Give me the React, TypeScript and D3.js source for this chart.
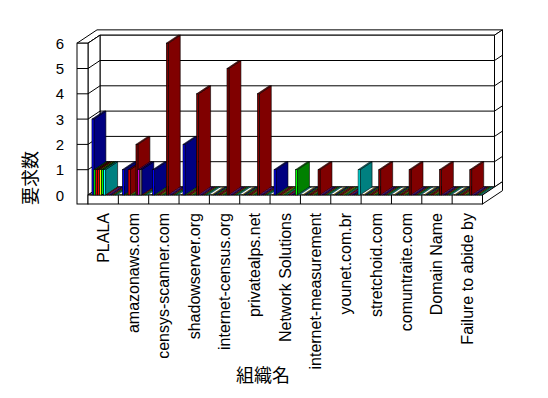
import React from "react";
import * as d3 from "d3";

// ---- data ----
const categories = [
  "PLALA",
  "amazonaws.com",
  "censys-scanner.com",
  "shadowserver.org",
  "internet-census.org",
  "privatealps.net",
  "Network Solutions",
  "internet-measurement",
  "younet.com.br",
  "stretchoid.com",
  "comuntraite.com",
  "Domain Name",
  "Failure to abide by",
];
const yTicks = [0, 1, 2, 3, 4, 5, 6];
const yTitle = "要求数";
const xTitle = "組織名";

const s00 = [0, 0, 0, 0, 0, 0, 0, 0, 0, 0, 0, 0, 0];
const s01 = [3, 1, 1, 2, 0, 0, 1, 0, 0, 0, 0, 0, 0];
const s02 = [1, 0, 0, 0, 0, 0, 0, 0, 0, 0, 0, 0, 0];
const s03 = [1, 0, 0, 0, 0, 0, 0, 0, 0, 0, 0, 0, 0];
const s04 = [1, 1, 0, 0, 0, 0, 0, 0, 0, 0, 0, 0, 0];
const s05 = [1, 0, 0, 0, 0, 0, 0, 0, 0, 0, 0, 0, 0];
const s06 = [1, 0, 0, 0, 0, 0, 0, 0, 0, 0, 0, 0, 0];
const s07 = [1, 0, 0, 0, 0, 0, 0, 0, 0, 0, 0, 0, 0];
const s08 = [0, 2, 6, 4, 5, 4, 0, 1, 0, 1, 1, 1, 1];
const s09 = [0, 1, 0, 0, 0, 0, 0, 0, 0, 0, 0, 0, 0];
const s10 = [0, 1, 0, 0, 0, 0, 0, 0, 0, 0, 0, 0, 0];
const s11 = [0, 0, 0, 0, 0, 0, 0, 0, 0, 0, 0, 0, 0];
const s12 = [0, 0, 0, 0, 0, 0, 1, 0, 0, 0, 0, 0, 0];
const s13 = [0, 0, 0, 0, 0, 0, 0, 0, 1, 0, 0, 0, 0];
const seriesValues = [s00, s01, s02, s03, s04, s05, s06, s07, s08, s09, s10, s11, s12, s13];
const frontColors = [
  "#808000", "#0000FF", "#00FF00", "#FF0000", "#FF0000", "#FFFF00", "#00FF00",
  "#00FFFF", "#800000", "#FF00FF", "#808080", "#FF0000", "#00FF00", "#00FFFF",
];
const sideColors = [
  "#808000", "#000080", "#008000", "#800000", "#800000", "#808000", "#008000",
  "#008080", "#800000", "#800080", "#000080", "#800000", "#008000", "#008080",
];

// ---- layout ----
const X0 = 88;
const X1 = 482.5;
const WALL = 11;
const DX = 12;
const DY = -8;
const TX = 8;
const TY = -5.33;
const FLOOR = 9;
const SLOT_A = 2;
const SLOT_W = 1.95;

export default function App() {
  const x = d3.scaleBand<string>().domain(categories).range([X0, X1]).padding(0);
  const y = d3.scaleLinear().domain([0, 6]).range([195, 43.2]);
  const slot = d3
    .scaleBand<number>()
    .domain(seriesValues.map((_, i) => i))
    .range([SLOT_A, SLOT_A + SLOT_W * seriesValues.length])
    .padding(0);
  const sw = slot.bandwidth();
  const y0 = y(0);
  const y6 = y(6);
  const pts = (a: number[][]) => a.map((p) => p.join(",")).join(" ");
  const stroke = { stroke: "#000", strokeWidth: 1, fill: "#fff" } as const;

  const bars: JSX.Element[] = [];
  categories.forEach((c, ci) => {
    seriesValues.forEach((vals, si) => {
      const v = vals[ci];
      const x0 = (x(c) as number) + (slot(si) as number);
      const x1 = x0 + sw;
      const yt = y(v);
      const key = `${ci}-${si}`;
      if (v === 0) {
        bars.push(
          <polygon
            key={key}
            points={pts([[x0, y0], [x1, y0], [x1 + DX, y0 + DY], [x0 + DX, y0 + DY]])}
            fill={sideColors[si]}
            stroke="#000"
            strokeWidth={0.4}
          />
        );
      } else {
        bars.push(
          <g key={key} stroke="#000" strokeWidth={0.6}>
            <polygon
              points={pts([[x1, yt], [x1 + DX, yt + DY], [x1 + DX, y0 + DY], [x1, y0]])}
              fill={sideColors[si]}
            />
            <polygon
              points={pts([[x0, yt], [x1, yt], [x1 + DX, yt + DY], [x0 + DX, yt + DY]])}
              fill={sideColors[si]}
            />
            <rect x={x0} y={yt} width={sw} height={y0 - yt} fill={frontColors[si]} />
          </g>
        );
      }
    });
  });

  const inner = yTicks.filter((t) => t > 0 && t < 6);
  const fb = y0 + FLOOR;

  return (
    <svg
      width={548}
      height={398}
      style={{ position: "absolute", left: 0, top: 0, background: "#fff" }}
      fontFamily="'Liberation Sans', Arial, sans-serif"
    >
      <rect width={548} height={398} fill="#fff" />
      {/* back wall slab top + left wall top */}
      <polygon
        {...stroke}
        points={pts([
          [X0 - WALL, y6],
          [X0, y6],
          [X0 + DX, y6 + DY],
          [X1 + DX, y6 + DY],
          [X1 + DX + TX, y6 + DY + TY],
          [X0 - WALL + DX + TX, y6 + DY + TY],
        ])}
      />
      <line x1={X0} y1={y6} x2={X0 + DX} y2={y6 + DY} stroke="#000" />
      {/* back wall face */}
      <rect {...stroke} x={X0 + DX} y={y6 + DY} width={X1 - X0} height={y0 - y6} />
      {inner.map((t) => (
        <line key={"bg" + t} x1={X0 + DX} x2={X1 + DX} y1={y(t) + DY} y2={y(t) + DY} stroke="#000" />
      ))}
      {/* right slab side */}
      <polygon
        {...stroke}
        points={pts([
          [X1 + DX, y6 + DY],
          [X1 + DX + TX, y6 + DY + TY],
          [X1 + DX + TX, y0 + DY + TY],
          [X1 + DX, y0 + DY],
        ])}
      />
      {inner.map((t) => (
        <line
          key={"rs" + t}
          x1={X1 + DX}
          y1={y(t) + DY}
          x2={X1 + DX + TX}
          y2={y(t) + DY + TY}
          stroke="#000"
        />
      ))}
      {/* left wall inner face */}
      <polygon {...stroke} points={pts([[X0, y6], [X0 + DX, y6 + DY], [X0 + DX, y0 + DY], [X0, y0]])} />
      {inner.map((t) => (
        <line key={"lw" + t} x1={X0} y1={y(t)} x2={X0 + DX} y2={y(t) + DY} stroke="#000" />
      ))}
      {/* left wall front face */}
      <rect {...stroke} x={X0 - WALL} y={y6} width={WALL} height={fb - y6} />
      {inner.map((t) => (
        <line key={"lf" + t} x1={X0 - WALL} x2={X0} y1={y(t)} y2={y(t)} stroke="#000" />
      ))}
      {/* floor */}
      <polygon {...stroke} points={pts([[X0, y0], [X1, y0], [X1 + DX, y0 + DY], [X0 + DX, y0 + DY]])} />
      <polygon
        {...stroke}
        points={pts([
          [X1, y0],
          [X1, fb],
          [X1 + DX + TX, fb + DY + TY],
          [X1 + DX + TX, y0 + DY + TY],
        ])}
      />
      <rect {...stroke} x={X0} y={y0} width={X1 - X0} height={FLOOR} />
      {categories.slice(1).map((c) => (
        <line key={"fd" + c} x1={x(c)} x2={x(c)} y1={y0} y2={fb} stroke="#000" />
      ))}
      {/* bars */}
      {bars}
      {/* y tick labels */}
      {yTicks.map((t) => (
        <text key={"yt" + t} x={64} y={y(t) + 5.5} fontSize={15} textAnchor="end" fill="#000">
          {t}
        </text>
      ))}
      {/* category labels */}
      {categories.map((c) => (
        <text
          key={"cl" + c}
          transform={`translate(${(x(c) as number) + x.bandwidth() / 2 + 5.5},213) rotate(-90)`}
          fontSize={16}
          textAnchor="end"
          fill="#000"
        >
          {c}
        </text>
      ))}
      <text
        transform="translate(37,178) rotate(-90)"
        fontSize={18}
        textAnchor="middle"
        fontFamily="'Noto Sans CJK JP', sans-serif"
        fill="#000"
      >
        {yTitle}
      </text>
      <text
        x={263}
        y={382}
        fontSize={18}
        textAnchor="middle"
        fontFamily="'Noto Sans CJK JP', sans-serif"
        fill="#000"
      >
        {xTitle}
      </text>
    </svg>
  );
}
